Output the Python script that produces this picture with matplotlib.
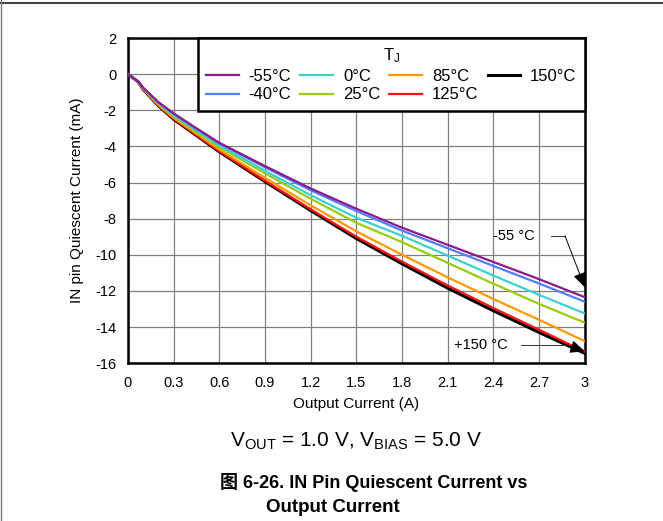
import numpy as np
import matplotlib
matplotlib.use("Agg")
from matplotlib import pyplot as plt
from matplotlib.lines import Line2D

plt.rcParams['font.family'] = ['Liberation Sans', 'Noto Sans CJK SC', 'DejaVu Sans']
plt.rcParams['mathtext.fontset'] = 'custom'
plt.rcParams['mathtext.rm'] = 'Liberation Sans'
plt.rcParams['mathtext.it'] = 'Liberation Sans'
plt.rcParams['axes.unicode_minus'] = False

# output current (A)
i_out = [0, 0.05, 0.07, 0.1, 0.2, 0.3, 0.45, 0.6, 0.9, 1.2, 1.5, 1.8, 2.1, 2.4, 2.7, 3.0]

# IN pin quiescent current (mA), one list per junction temperature
iq_m55 = [0, -0.3, -0.42, -0.75, -1.55, -2.17, -3.0, -3.8, -5.09, -6.33, -7.45, -8.5, -9.45, -10.4, -11.35, -12.35]
iq_m40 = [0, -0.3, -0.42, -0.76, -1.57, -2.2, -3.03, -3.84, -5.16, -6.43, -7.58, -8.66, -9.64, -10.62, -11.59, -12.6]
iq_0 = [0, -0.31, -0.43, -0.78, -1.61, -2.27, -3.12, -3.95, -5.35, -6.7, -7.95, -8.95, -10.05, -11.15, -12.22, -13.25]
iq_25 = [0, -0.31, -0.43, -0.8, -1.64, -2.33, -3.19, -4.04, -5.49, -6.9, -8.23, -9.3, -10.45, -11.6, -12.72, -13.76]
iq_85 = [0, -0.32, -0.44, -0.83, -1.7, -2.42, -3.3, -4.18, -5.74, -7.26, -8.7, -10.0, -11.25, -12.45, -13.6, -14.78]
iq_125 = [0, -0.32, -0.45, -0.84, -1.74, -2.48, -3.38, -4.27, -5.9, -7.48, -9.0, -10.38, -11.7, -12.95, -14.15, -15.37]
iq_150 = [0, -0.32, -0.45, -0.85, -1.75, -2.5, -3.4, -4.3, -5.95, -7.55, -9.1, -10.5, -11.85, -13.1, -14.3, -15.46]

labels = ['-55°C', '-40°C', '0°C', '25°C', '85°C', '125°C', '150°C']
series = [iq_m55, iq_m40, iq_0, iq_25, iq_85, iq_125, iq_150]
colors = ['#8B1A8B', '#4F7FFF', '#3FCFCF', '#99CC11', '#FF9900', '#FF1111', '#000000']

x_ticks = [0, 0.3, 0.6, 0.9, 1.2, 1.5, 1.8, 2.1, 2.4, 2.7, 3]
x_ticklabels = ['0', '0.3', '0.6', '0.9', '1.2', '1.5', '1.8', '2.1', '2.4', '2.7', '3']
y_ticks = [2, 0, -2, -4, -6, -8, -10, -12, -14, -16]

fig = plt.figure(figsize=(6.63, 5.21), dpi=100)
ax = fig.add_axes([0.193, 0.303, 0.689, 0.624])

# draw hot curves first so the cold ones sit on top
handles = [None] * len(series)
for k in reversed(range(len(series))):
    lw = 2.2 if k == 6 else 1.6
    h, = ax.plot(i_out, series[k], color=colors[k], lw=lw, label=labels[k], zorder=3)
    handles[k] = h

ax.set_xlim(0, 3)
ax.set_ylim(-16, 2)
ax.set_xticks(x_ticks)
ax.set_xticklabels(x_ticklabels)
ax.set_yticks(y_ticks)
ax.tick_params(length=0, labelsize=10.5)
ax.tick_params(axis='x', pad=9)
ax.tick_params(axis='y', pad=8)
ax.grid(True, color='#808080', lw=0.9)
ax.set_axisbelow(True)
for sp in ax.spines.values():
    sp.set_linewidth(1.8)
ax.set_xlabel('Output Current (A)', fontsize=11, labelpad=5)
ax.set_ylabel('IN pin Quiescent Current (mA)', fontsize=11, labelpad=8)

leg = ax.legend(handles=handles, ncol=4, loc='upper right', bbox_to_anchor=(1, 1),
                borderaxespad=0, fontsize=12, title=r'T$_\mathrm{J}$', title_fontsize=12,
                handlelength=1.95, columnspacing=0.55, handletextpad=0.6, labelspacing=0.22,
                fancybox=False, framealpha=1, edgecolor='black', borderpad=0.5)
leg.get_frame().set_linewidth(1.8)
leg.set_zorder(5)

# callouts
ax.plot([2.78, 2.87], [-8.95, -8.95], color='#333333', lw=0.7, zorder=4)
ax.annotate('', xy=(3.0, -11.8), xytext=(2.87, -8.95),
            arrowprops=dict(arrowstyle='-|>,head_length=0.9,head_width=0.4', color='black', lw=0.7,
                            shrinkA=0, shrinkB=0), zorder=4)
ax.text(2.40, -8.95, '-55 °C', fontsize=10.5, va='center', ha='left', zorder=4)
ax.plot([2.58, 2.88], [-15.0, -15.0], color='#333333', lw=0.7, zorder=4)
ax.annotate('', xy=(3.0, -15.35), xytext=(2.88, -15.0),
            arrowprops=dict(arrowstyle='-|>,head_length=0.9,head_width=0.4', color='black', lw=0.7,
                            shrinkA=0, shrinkB=0), zorder=4)
ax.text(2.14, -15.0, '+150 °C', fontsize=10.5, va='center', ha='left', zorder=4)

fig.text(0.537, 0.153, r'V$_\mathrm{OUT}$ = 1.0 V, V$_\mathrm{BIAS}$ = 5.0 V', fontsize=15, ha='center', va='center')
fig.text(0.564, 0.074, '图 6-26. IN Pin Quiescent Current vs', fontsize=13,
         fontweight='bold', ha='center', va='center')
fig.text(0.502, 0.026, 'Output Current', fontsize=13.5,
         fontweight='bold', ha='center', va='center')

# page border lines
fig.add_artist(Line2D([0, 1], [1 - 2.5 / 521, 1 - 2.5 / 521], color='#444444', lw=1.5))
fig.add_artist(Line2D([0.8 / 663, 0.8 / 663], [0, 1], color='#777777', lw=1.0))

fig.savefig('out.png', dpi=100)
